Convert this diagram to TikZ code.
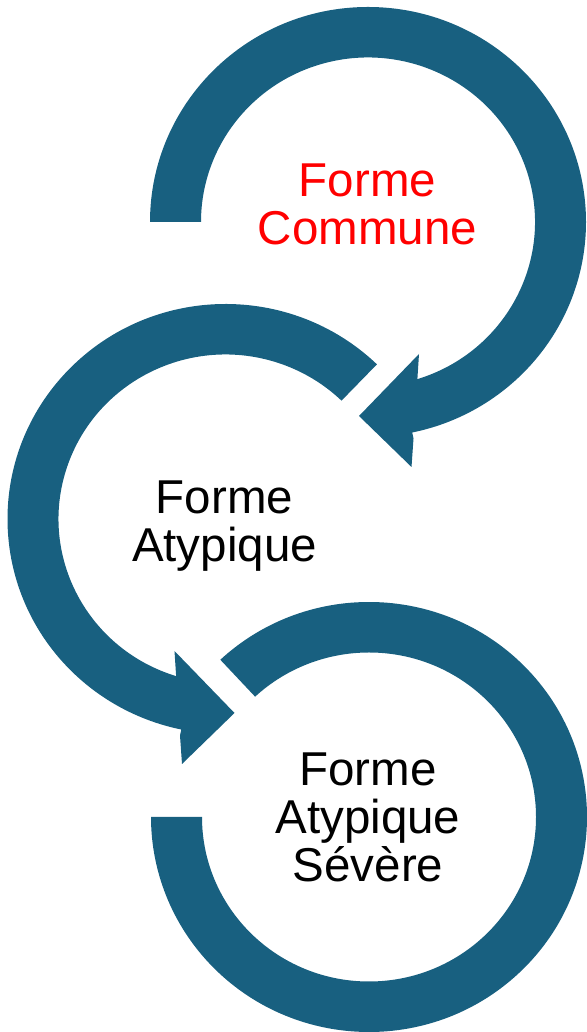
\documentclass[tikz,border=0pt]{standalone}
\usepackage{fontspec}
\setmainfont{Liberation Sans}
\definecolor{ringblue}{RGB}{24,96,128}

\begin{document}
\begin{tikzpicture}[x=1pt,y=1pt,
  ringshape/.style={fill=ringblue, draw=none},
  lbl/.style={font=\fontsize{47.5}{48}\selectfont, inner sep=0pt, anchor=base},
]
\useasboundingbox (0,0) rectangle (586,1032);

% top ring: open on the left, arrow head at the bottom
\begin{scope}[shift={(368,810)}]
  \fill[ringshape] (180:218 and 215)
    arc[start angle=180, end angle=-78.3, x radius=218, y radius=215]
    -- (45.5,-216.5) -- (43.5,-245) -- (-9,-194) -- (51,-132)
    -- (-72.8:167 and 164.5)
    arc[start angle=-72.8, end angle=180, x radius=167, y radius=164.5]
    -- cycle;
\end{scope}

% middle ring: open on the upper right, arrow head at the bottom
\begin{scope}[shift={(225.5,513)}]
  \fill[ringshape] (46:218 and 215)
    arc[start angle=46, end angle=258.3, x radius=218, y radius=215]
    -- (-45.5,-216.5) -- (-43.5,-245) -- (9,-194) -- (-51,-132)
    -- (252.8:167 and 164.5)
    arc[start angle=252.8, end angle=46, x radius=167, y radius=164.5]
    -- cycle;
\end{scope}

% bottom ring: open between the upper left and the left
\begin{scope}[shift={(369,215)}]
  \fill[ringshape] (133:218 and 215)
    arc[start angle=133, end angle=-180, x radius=218, y radius=215]
    -- (-180:167 and 164.5)
    arc[start angle=-180, end angle=133, x radius=167, y radius=164.5]
    -- cycle;
\end{scope}

% labels
\node[lbl, text=red] (c1a) at (367.5,835) {Forme};
\node[lbl, text=red] (c1b) at (367.5,787) {Commune};

\node[lbl] (c2a) at (224.5,518) {Forme};
\node[lbl] (c2b) at (224.5,470) {Atypique};

\node[lbl] (c3a) at (368,246) {Forme};
\node[lbl] (c3b) at (368,198) {Atypique};
\node[lbl] (c3c) at (368,150) {Sévère};
\end{tikzpicture}
\end{document}
